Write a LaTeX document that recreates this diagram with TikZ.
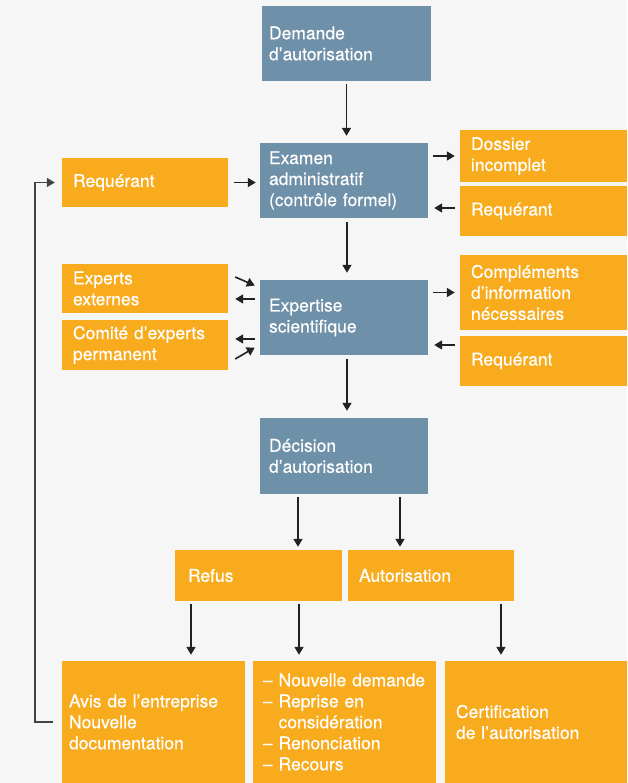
\documentclass[tikz,border=0pt]{standalone}
\usepackage{fontspec}
\setmainfont{TeX Gyre Heros}[FakeBold=0.35]
\usetikzlibrary{arrows.meta,calc}
\definecolor{bgc}{HTML}{F6F6F6}
\definecolor{orangec}{HTML}{F9AB1E}
\definecolor{bluec}{HTML}{6F90A9}
\definecolor{arrowc}{HTML}{222222}
\begin{document}
\begin{tikzpicture}[x=1pt,y=-1pt,
  bx/.style={inner xsep=7pt,inner ysep=0pt,align=left,text=white,
    font=\fontsize{17.5}{21}\selectfont,anchor=center},
  obox/.style={bx,fill=orangec},
  bbox/.style={bx,fill=bluec},
  arr/.style={draw=arrowc,line width=1.6pt,-{Triangle[length=8pt,width=9pt]}},
  fb/.style={draw=arrowc!85!white,line width=1.5pt,-{Triangle[length=8pt,width=9pt]}}
]
\useasboundingbox[fill=bgc] (0,0) rectangle (627,783);

% blue boxes
\node[bbox,text width=155pt,minimum height=75pt] (demande) at (346.5,43.5) {Demande\\d’autorisation};
\node[bbox,text width=154pt,minimum height=75pt] (examen) at (344,180.5) {\hspace*{2pt}Examen\\\hspace*{2pt}administratif\\\hspace*{2pt}(contrôle formel)};
\node[bbox,text width=154pt,minimum height=75pt] (expertise) at (344,317.5) {\hspace*{2pt}Expertise\\\hspace*{2pt}scientifique};
\node[bbox,text width=154pt,minimum height=76pt] (decision) at (344,456) {\hspace*{2pt}Décision\\\hspace*{2pt}d’autorisation};

% orange boxes left
\node[obox,text width=152pt,minimum height=49pt] (reqL) at (145,182.5) {\hspace*{4pt}Requérant};
\node[obox,text width=152pt,minimum height=49pt] (experts) at (145,288.5) {\hspace*{4pt}Experts\\\hspace*{4pt}externes};
\node[obox,text width=152pt,minimum height=50pt] (comite) at (145,345) {\hspace*{4pt}Comité d’experts\\\hspace*{4pt}permanent};

% orange boxes right
\node[obox,text width=153pt,minimum height=52pt] (dossier) at (543.5,156) {\hspace*{4pt}Dossier\\\hspace*{4pt}incomplet};
\node[obox,text width=153pt,minimum height=50pt] (req1) at (543.5,211) {\hspace*{4pt}Requérant};
\node[obox,text width=153pt,minimum height=75pt] (compl) at (543.5,292.5) {\hspace*{4pt}Compléments\\\hspace*{4pt}d’information\\\hspace*{4pt}nécessaires};
\node[obox,text width=153pt,minimum height=50pt] (req2) at (543.5,361) {\hspace*{4pt}Requérant};

% decisions
\node[obox,text width=153pt,minimum height=51pt] (refus) at (258.5,575.5) {\hspace*{6pt}Refus};
\node[obox,text width=152pt,minimum height=51pt] (autor) at (431,575.5) {\hspace*{4pt}Autorisation};

% bottom
\node[obox,text width=169pt,minimum height=122pt] (avis) at (153.5,722) {Avis de l’entreprise\\Nouvelle\\documentation};
\node[obox,text width=169pt,minimum height=122pt] (nouv) at (344.5,722) {\hspace*{3pt}– Nouvelle demande\\\hspace*{3pt}– Reprise en\\\hspace*{3pt}\phantom{– }considération\\\hspace*{3pt}– Renonciation\\\hspace*{3pt}– Recours};
\node[obox,text width=168pt,minimum height=122pt] (certif) at (536,722) {\hspace*{4pt}Certification\\\hspace*{4pt}de l’autorisation};

% main vertical arrows
\draw[arr,shorten <=3pt,shorten >=7pt] (demande.south) -- (demande.south |- examen.north);
\draw[arr,shorten <=4pt,shorten >=7pt] ([xshift=3pt]examen.south) -- ([xshift=3pt]expertise.north);
\draw[arr,shorten <=4pt,shorten >=7pt] ([xshift=3pt]expertise.south) -- ([xshift=3pt]decision.north);
\draw[arr,shorten <=3pt,shorten >=3pt] ([xshift=-46pt]decision.south) -- ([xshift=-46pt]decision.south |- refus.north);
\draw[arr,shorten <=3pt,shorten >=3pt] ([xshift=56pt]decision.south) -- ([xshift=56pt]decision.south |- autor.north);
\draw[arr,shorten <=3pt,shorten >=6pt] ([xshift=-67.5pt]refus.south) -- ([xshift=-67.5pt]refus.south |- avis.north);
\draw[arr,shorten <=3pt,shorten >=6pt] ([xshift=40.5pt]refus.south) -- ([xshift=40.5pt]refus.south |- nouv.north);
\draw[arr,shorten <=3pt,shorten >=6pt] ([xshift=70pt]autor.south) -- ([xshift=70pt]autor.south |- certif.north);

% side arrows, examen
\draw[arr,shorten <=6pt,shorten >=4pt] (reqL.east) -- (reqL.east -| examen.west);
\draw[arr,shorten <=5pt,shorten >=5pt] (examen.east |- dossier.west) -- (dossier.west);
\draw[arr,shorten <=5pt,shorten >=6pt] ([yshift=3pt]req1.west) -- ([yshift=3pt]req1.west -| examen.east);

% side arrows, expertise
\draw[arr,shorten <=5pt,shorten >=5pt] (expertise.east |- compl.west) -- (compl.west);
\draw[arr,shorten <=5pt,shorten >=6pt] ([yshift=16pt]req2.west) -- ([yshift=16pt]req2.west -| expertise.east);
\draw[arr] ([xshift=7pt,yshift=11.5pt]experts.east) -- ([xshift=-5pt,yshift=32pt]expertise.west);
\draw[arr,shorten <=5pt,shorten >=7pt] ([yshift=18.5pt]expertise.west) -- ([yshift=18.5pt]expertise.west -| experts.east);
\draw[arr,shorten <=5pt,shorten >=7pt] ([yshift=-21.5pt]expertise.west) -- ([yshift=-21.5pt]expertise.west -| comite.east);
\draw[arr] ([xshift=7pt,yshift=-14pt]comite.east) -- ([xshift=-5pt,yshift=-30pt]expertise.west);

% feedback
\draw[fb] ([xshift=-9pt]avis.west) -- ++(-18pt,0) |- ([xshift=-7pt]reqL.west);
\end{tikzpicture}
\end{document}
